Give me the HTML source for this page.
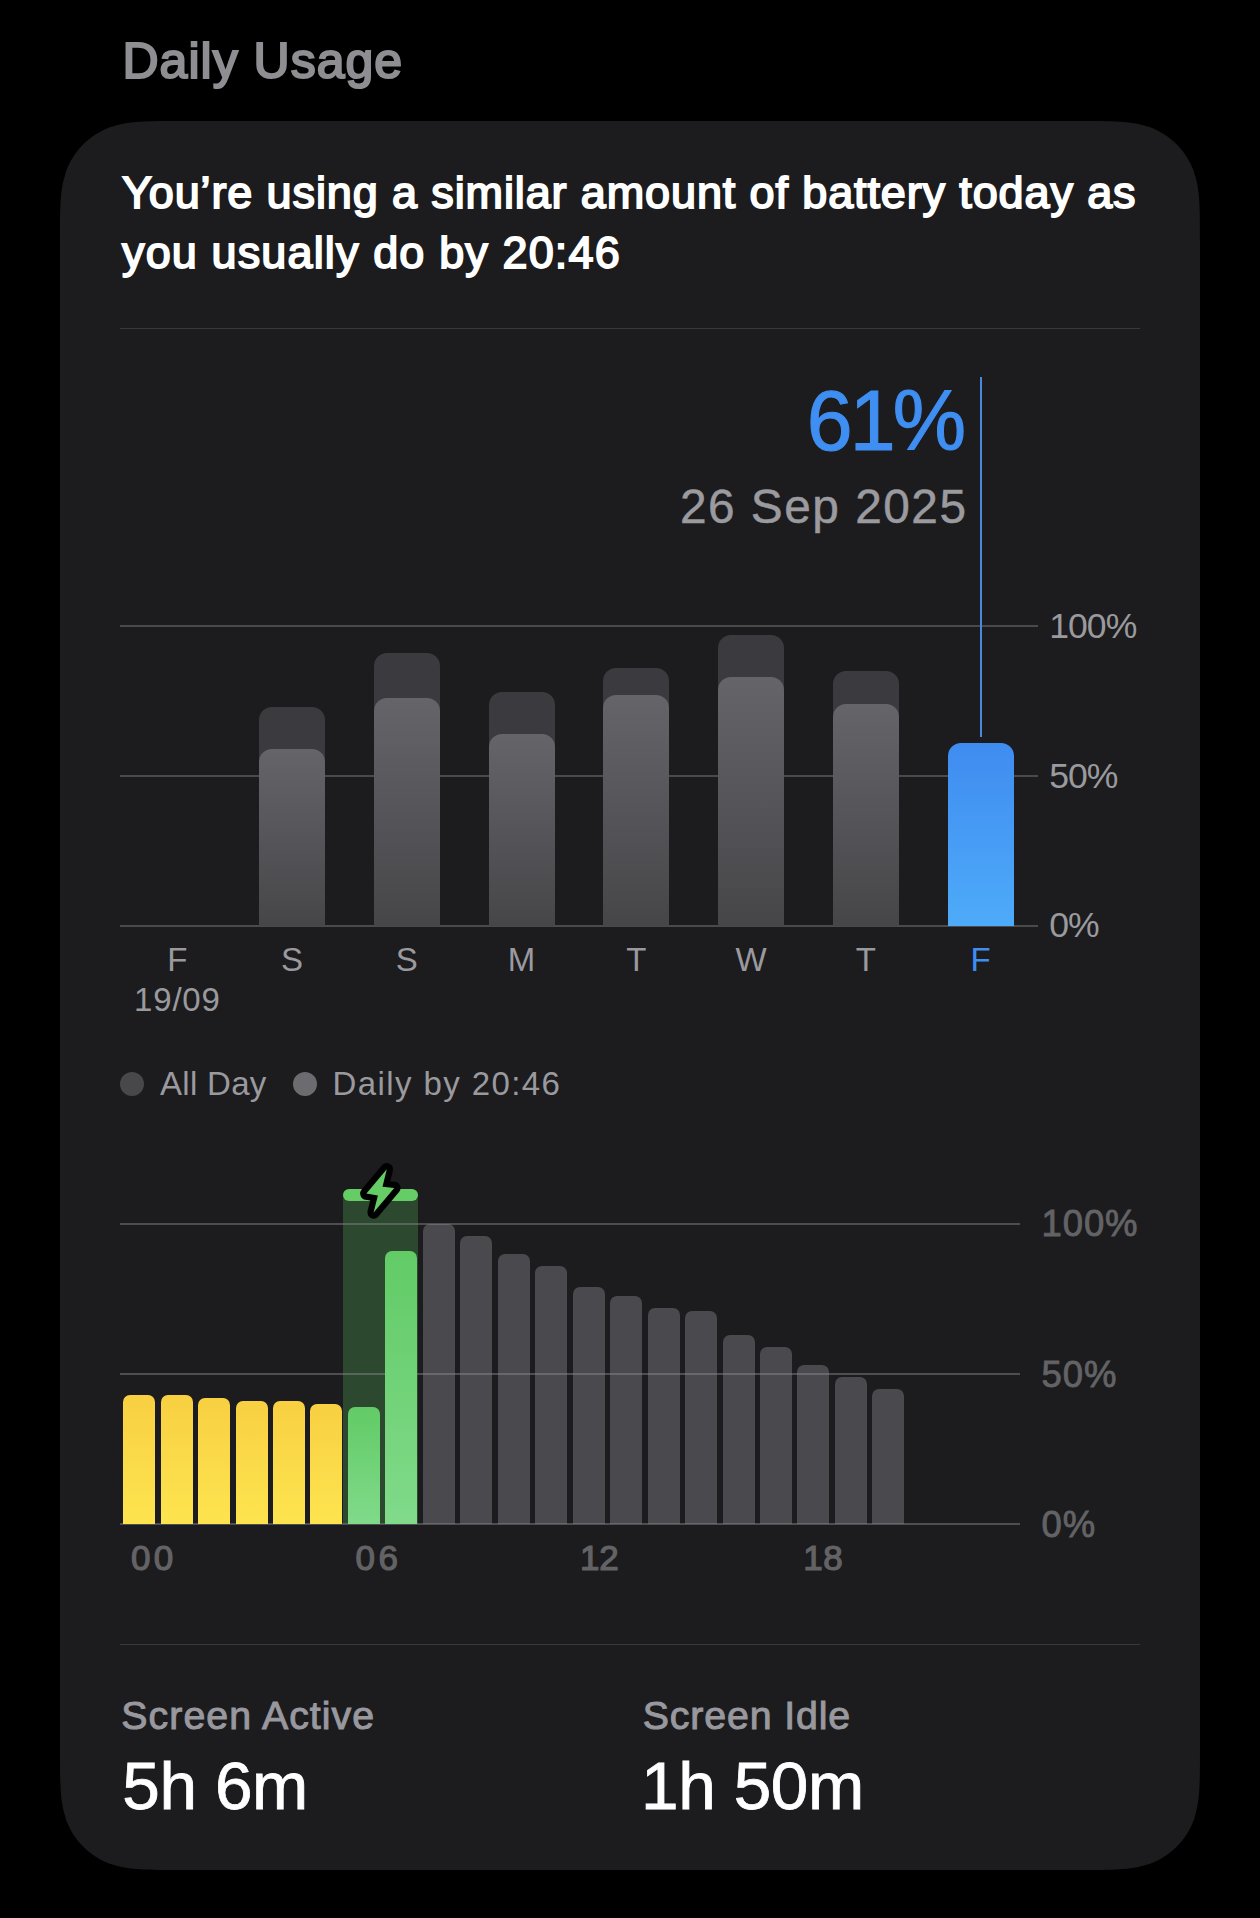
<!DOCTYPE html>
<html>
<head>
<meta charset="utf-8">
<style>
html,body{margin:0;padding:0;background:#000;width:1260px;height:1918px;overflow:hidden;}
body{position:relative;font-family:"Liberation Sans",sans-serif;}
.t{position:absolute;white-space:nowrap;line-height:1;}
.card{position:absolute;left:60px;top:121px;width:1140px;height:1749px;background:#1c1c1e;border-radius:76px;}
.sep{position:absolute;height:1px;background:#38383a;}
.grid{position:absolute;height:2px;background:#4a4a4d;}
.grid2{position:absolute;height:1.8px;background:rgba(140,140,146,0.45);}
.gbar{position:absolute;border-radius:13px 13px 0 0;}
.outer{background:#3b3a3f;}
.inner{background:linear-gradient(180deg,#656469 0%,#464649 100%);}
.blue{background:linear-gradient(180deg,#3f8cf0 0%,#4eabf9 100%);}
.hbar{position:absolute;width:32px;border-radius:7px 7px 0 0;}
.y{background:linear-gradient(180deg,#f8d042 0%,#fde44f 100%);}
.g{background:linear-gradient(180deg,#62cb66 0%,#80da8a 100%);}
.k{background:#4a494e;}
.dot{position:absolute;width:24px;height:24px;border-radius:50%;}
</style>
</head>
<body>
<div class="t" id="title" style="left:122.50px;top:35.67px;font-size:50px;font-weight:400;color:#8e8e93;letter-spacing:1.0px;-webkit-text-stroke:2.1px #8e8e93;">Daily Usage</div>
<svg style="position:absolute;left:0;top:0;" width="1260" height="1918"><path d="M182.29,121.00L1077.71,121.00C1112.92,121.00 1130.53,121.00 1146.41,126.24L1149.48,126.99C1170.17,134.52 1186.48,150.83 1194.01,171.52L1194.76,174.59C1200.00,190.47 1200.00,208.08 1200.00,243.29L1200.00,1747.71C1200.00,1782.92 1200.00,1800.53 1194.76,1816.41L1194.01,1819.48C1186.48,1840.17 1170.17,1856.48 1149.48,1864.01L1146.41,1864.76C1130.53,1870.00 1112.92,1870.00 1077.71,1870.00L182.29,1870.00C147.08,1870.00 129.47,1870.00 113.59,1864.76L110.52,1864.01C89.83,1856.48 73.52,1840.17 65.99,1819.48L65.24,1816.41C60.00,1800.53 60.00,1782.92 60.00,1747.71L60.00,243.29C60.00,208.08 60.00,190.47 65.24,174.59L65.99,171.52C73.52,150.83 89.83,134.52 110.52,126.99L113.59,126.24C129.47,121.00 147.08,121.00 182.29,121.00Z" fill="#1c1c1e"/></svg>
<div class="t" id="h1" style="left:122.00px;top:170.31px;font-size:45px;font-weight:400;color:#fff;letter-spacing:0.88px;-webkit-text-stroke:1.8px #fff;">You’re using a similar amount of battery today as</div>
<div class="t" id="h2" style="left:122.00px;top:229.91px;font-size:45px;font-weight:400;color:#fff;letter-spacing:1.13px;-webkit-text-stroke:1.8px #fff;">you usually do by 20:46</div>
<div class="sep" style="left:120px;top:328px;width:1020px;"></div>
<div class="t" id="pct" style="right:297.00px;top:378.35px;font-size:85px;font-weight:400;color:#3f8ef2;letter-spacing:-3px;-webkit-text-stroke:1.1px #3f8ef2;transform:scaleX(0.97);transform-origin:100% 50%;">61%</div>
<div class="t" id="date" style="right:292.50px;top:483.04px;font-size:47.8px;font-weight:400;color:#9a9a9f;letter-spacing:1.5px;-webkit-text-stroke:0.5px #9a9a9f;">26 Sep 2025</div>
<div class="grid" style="left:120px;top:625px;width:918px;"></div>
<div class="grid" style="left:120px;top:775px;width:918px;"></div>
<div class="grid" style="left:120px;top:925px;width:918px;"></div>
<div class="t" style="left:1049.30px;top:608.56px;font-size:35.6px;font-weight:400;color:#9a9a9e;letter-spacing:-1px;">100%</div>
<div class="t" style="left:1049.30px;top:758.56px;font-size:35.6px;font-weight:400;color:#9a9a9e;letter-spacing:-1px;">50%</div>
<div class="t" style="left:1049.30px;top:908.36px;font-size:35.6px;font-weight:400;color:#9a9a9e;letter-spacing:-1px;">0%</div>
<div class="gbar outer" style="left:259.12px;top:706.8px;width:66px;height:219.20px;"></div>
<div class="gbar inner" style="left:259.12px;top:748.7px;width:66px;height:177.30px;"></div>
<div class="gbar outer" style="left:373.88px;top:652.7px;width:66px;height:273.30px;"></div>
<div class="gbar inner" style="left:373.88px;top:697.7px;width:66px;height:228.30px;"></div>
<div class="gbar outer" style="left:488.62px;top:691.6px;width:66px;height:234.40px;"></div>
<div class="gbar inner" style="left:488.62px;top:733.8px;width:66px;height:192.20px;"></div>
<div class="gbar outer" style="left:603.38px;top:668px;width:66px;height:258.00px;"></div>
<div class="gbar inner" style="left:603.38px;top:694.7px;width:66px;height:231.30px;"></div>
<div class="gbar outer" style="left:718.12px;top:634.8px;width:66px;height:291.20px;"></div>
<div class="gbar inner" style="left:718.12px;top:676.7px;width:66px;height:249.30px;"></div>
<div class="gbar outer" style="left:832.88px;top:671px;width:66px;height:255.00px;"></div>
<div class="gbar inner" style="left:832.88px;top:703.8px;width:66px;height:222.20px;"></div>
<div class="gbar blue" style="left:947.62px;top:743px;width:66px;height:183px;"></div>
<div style="position:absolute;left:979.6px;top:377px;width:2px;height:360px;background:#4a88dc;"></div>
<div class="t" style="left:-122.62px;width:600px;text-align:center;top:942.57px;font-size:33px;font-weight:400;color:#9a9a9e;">F</div>
<div class="t" style="left:-7.88px;width:600px;text-align:center;top:942.57px;font-size:33px;font-weight:400;color:#9a9a9e;">S</div>
<div class="t" style="left:106.88px;width:600px;text-align:center;top:942.57px;font-size:33px;font-weight:400;color:#9a9a9e;">S</div>
<div class="t" style="left:221.62px;width:600px;text-align:center;top:942.57px;font-size:33px;font-weight:400;color:#9a9a9e;">M</div>
<div class="t" style="left:336.38px;width:600px;text-align:center;top:942.57px;font-size:33px;font-weight:400;color:#9a9a9e;">T</div>
<div class="t" style="left:451.12px;width:600px;text-align:center;top:942.57px;font-size:33px;font-weight:400;color:#9a9a9e;">W</div>
<div class="t" style="left:565.88px;width:600px;text-align:center;top:942.57px;font-size:33px;font-weight:400;color:#9a9a9e;">T</div>
<div class="t" style="left:680.62px;width:600px;text-align:center;top:942.57px;font-size:33px;font-weight:400;color:#3f8ef2;">F</div>
<div class="t" style="left:-122.62px;width:600px;text-align:center;top:983.07px;font-size:33px;font-weight:400;color:#9a9a9e;letter-spacing:0.8px;">19/09</div>
<div class="dot" style="left:120px;top:1071.5px;background:#48484b;"></div>
<div class="t" style="left:160.00px;top:1067.27px;font-size:33px;font-weight:400;color:#9a9a9e;letter-spacing:0.3px;">All Day</div>
<div class="dot" style="left:293px;top:1071.5px;background:#6b6b70;"></div>
<div class="t" style="left:332.50px;top:1067.27px;font-size:33px;font-weight:400;color:#9a9a9e;letter-spacing:1.4px;">Daily by 20:46</div>
<div style="position:absolute;left:342.7px;top:1195px;width:75px;height:329px;background:#2c482f;"></div>
<div class="hbar k" style="left:422.87px;top:1224.2px;height:299.80px;"></div>
<div class="hbar k" style="left:460.32px;top:1235.8px;height:288.20px;"></div>
<div class="hbar k" style="left:497.78px;top:1253.6px;height:270.40px;"></div>
<div class="hbar k" style="left:535.24px;top:1266px;height:258.00px;"></div>
<div class="hbar k" style="left:572.70px;top:1287.2px;height:236.80px;"></div>
<div class="hbar k" style="left:610.16px;top:1296px;height:228.00px;"></div>
<div class="hbar k" style="left:647.62px;top:1307.9px;height:216.10px;"></div>
<div class="hbar k" style="left:685.08px;top:1311px;height:213.00px;"></div>
<div class="hbar k" style="left:722.53px;top:1334.6px;height:189.40px;"></div>
<div class="hbar k" style="left:759.99px;top:1346.8px;height:177.20px;"></div>
<div class="hbar k" style="left:797.45px;top:1365.1px;height:158.90px;"></div>
<div class="hbar k" style="left:834.91px;top:1377px;height:147.00px;"></div>
<div class="hbar k" style="left:872.37px;top:1388.7px;height:135.30px;"></div>
<div class="grid2" style="left:120px;top:1222.9px;width:899.5px;"></div>
<div class="grid2" style="left:120px;top:1373.2px;width:899.5px;"></div>
<div class="grid2" style="left:120px;top:1523.2px;width:899.5px;"></div>
<div class="hbar y" style="left:123.20px;top:1394.9px;height:129.10px;"></div>
<div class="hbar y" style="left:160.66px;top:1394.9px;height:129.10px;"></div>
<div class="hbar y" style="left:198.12px;top:1397.9px;height:126.10px;"></div>
<div class="hbar y" style="left:235.57px;top:1401px;height:123.00px;"></div>
<div class="hbar y" style="left:273.03px;top:1401px;height:123.00px;"></div>
<div class="hbar y" style="left:310.49px;top:1403.8px;height:120.20px;"></div>
<div class="hbar g" style="left:347.95px;top:1406.8px;height:117.20px;"></div>
<div class="hbar g" style="left:385.41px;top:1250.8px;height:273.20px;"></div>
<div style="position:absolute;left:342.9px;top:1189.3px;width:75px;height:12.2px;border-radius:6.1px;background:#66cd66;"></div>
<svg style="position:absolute;left:0;top:0;" width="1260" height="1918" viewBox="0 0 1260 1918"><path d="M386.8,1169.3 L366.4,1193.6 L377.9,1195.4 L373.6,1212.5 L394.3,1187.9 L382.5,1186.8 Z" fill="#66cc66" stroke="#000" stroke-width="12.5" stroke-linejoin="round" paint-order="stroke"/></svg>
<div class="t" style="left:1041.50px;top:1206.30px;font-size:36.5px;font-weight:400;color:#636366;letter-spacing:0.9px;-webkit-text-stroke:0.8px #636366;">100%</div>
<div class="t" style="left:1041.50px;top:1356.90px;font-size:36.5px;font-weight:400;color:#636366;letter-spacing:0.9px;-webkit-text-stroke:0.8px #636366;">50%</div>
<div class="t" style="left:1041.50px;top:1506.80px;font-size:36.5px;font-weight:400;color:#636366;letter-spacing:0.9px;-webkit-text-stroke:0.8px #636366;">0%</div>
<div class="t" style="left:130.90px;top:1539.97px;font-size:35px;font-weight:400;color:#636366;letter-spacing:3.5px;-webkit-text-stroke:1.2px #636366;">00</div>
<div class="t" style="left:355.50px;top:1539.97px;font-size:35px;font-weight:400;color:#636366;letter-spacing:3.5px;-webkit-text-stroke:1.2px #636366;">06</div>
<div class="t" style="left:579.90px;top:1539.97px;font-size:35px;font-weight:400;color:#636366;letter-spacing:0px;-webkit-text-stroke:1.2px #636366;">12</div>
<div class="t" style="left:803.30px;top:1539.97px;font-size:35px;font-weight:400;color:#636366;letter-spacing:0.5px;-webkit-text-stroke:1.2px #636366;">18</div>
<div class="sep" style="left:120px;top:1644px;width:1020px;"></div>
<div class="t" style="left:121.30px;top:1696.33px;font-size:39.3px;font-weight:400;color:#98989e;letter-spacing:1.05px;-webkit-text-stroke:1px #98989e;">Screen Active</div>
<div class="t" style="left:122.30px;top:1752.16px;font-size:67.5px;font-weight:400;color:#fff;letter-spacing:-0.4px;-webkit-text-stroke:0.8px #fff;">5h 6m</div>
<div class="t" style="left:642.80px;top:1696.33px;font-size:39.3px;font-weight:400;color:#98989e;letter-spacing:0.85px;-webkit-text-stroke:1px #98989e;">Screen Idle</div>
<div class="t" style="left:641.00px;top:1752.16px;font-size:67.5px;font-weight:400;color:#fff;letter-spacing:-0.4px;-webkit-text-stroke:0.8px #fff;">1h 50m</div>
</body>
</html>
